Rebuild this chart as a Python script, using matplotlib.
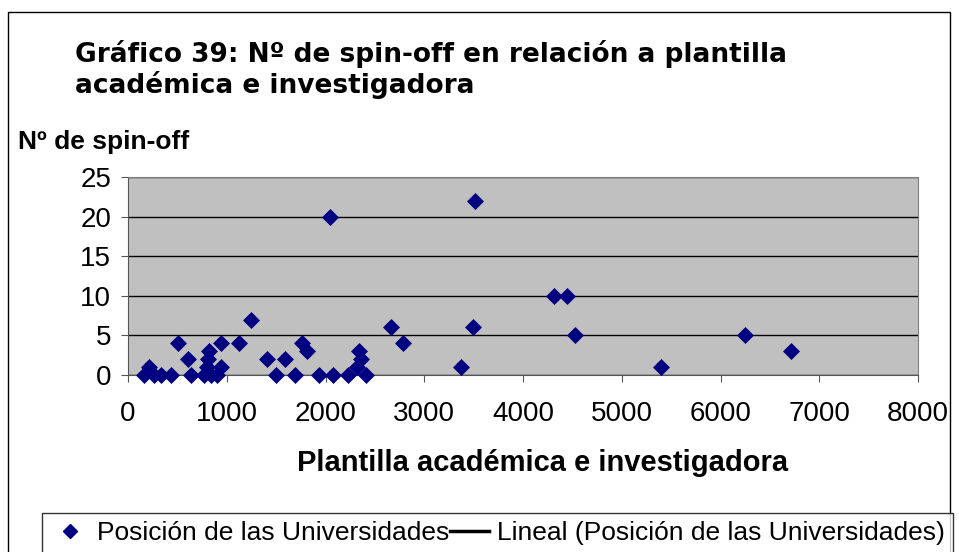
import matplotlib.pyplot as plt
from matplotlib.lines import Line2D
from matplotlib.patches import Rectangle

# plantilla académica e investigadora vs nº de spin-off por universidad
plantilla = [165, 266, 333, 435, 637, 771, 839, 906, 1497, 1692, 1935, 2076, 2231, 2410,
             215, 805, 940, 2315, 3370, 5395,
             603, 812, 1412, 1591, 2356,
             822, 1810, 2339, 6710,
             502, 940, 1126, 1766, 2780,
             4523, 6245,
             2659, 3491,
             1243,
             4318, 4445,
             2045,
             3512]
spinoff = [0, 0, 0, 0, 0, 0, 0, 0, 0, 0, 0, 0, 0, 0,
           1, 1, 1, 1, 1, 1,
           2, 2, 2, 2, 2,
           3, 3, 3, 3,
           4, 4, 4, 4, 4,
           5, 5,
           6, 6,
           7,
           10, 10,
           20,
           22]

x_ticks = [0, 1000, 2000, 3000, 4000, 5000, 6000, 7000, 8000]
y_ticks = [0, 5, 10, 15, 20, 25]

W, H = 959, 552
fig = plt.figure(figsize=(W / 100, H / 100), dpi=100)

# marco exterior del gráfico (cortado por abajo)
fig.patches.append(Rectangle((8 / W, -0.1), 942 / W, 1.1 - 12 / H,
                             transform=fig.transFigure, fill=False,
                             edgecolor="black", linewidth=1))

ax = fig.add_axes([128 / W, 1 - 375 / H, 790 / W, 198 / H])
ax.set_facecolor("#C0C0C0")
ax.scatter(plantilla, spinoff, marker="D", s=75, color="#000080", zorder=3,
           clip_on=False, linewidths=0)

ax.set_xlim(0, 8000)
ax.set_ylim(0, 25)
ax.set_xticks(x_ticks)
ax.set_yticks(y_ticks)
ax.tick_params(labelsize=20, length=5, color="#555555")
ax.tick_params(axis="x", pad=14)
ax.tick_params(axis="y", pad=7)
for lab in ax.get_xticklabels() + ax.get_yticklabels():
    lab.set_family("Liberation Sans")
ax.grid(axis="y", color="black", linewidth=1)
ax.set_axisbelow(True)
for s in ax.spines.values():
    s.set_color("#808080")
ax.spines["left"].set_color("#555555")
ax.spines["bottom"].set_color("#555555")

ax.set_xlabel("Plantilla académica e investigadora", fontsize=21,
              fontweight="bold", family="Liberation Sans")
ax.xaxis.set_label_coords((543 - 128) / 790, -(463 - 375) / 198)
ax.xaxis.label.set_va("center")

fig.text(75 / W, 1 - 40 / H,
         "Gráfico 39: Nº de spin-off en relación a plantilla\nacadémica e investigadora",
         fontsize=19, fontweight="bold", family="DejaVu Sans", va="top",
         linespacing=1.12)
fig.text(18 / W, 1 - 142 / H, "Nº de spin-off", fontsize=19, fontweight="bold",
         family="Liberation Sans", va="center")

handles = [Line2D([], [], marker="D", linestyle="none", color="#000080", markersize=7.5),
           Line2D([], [], color="black", linewidth=2.5)]
leg = fig.legend(handles, ["Posición de las Universidades",
                           "Lineal (Posición de las Universidades)"],
                 loc="upper left", bbox_to_anchor=(42 / W, 1 - 513 / H), ncol=2,
                 frameon=True, fancybox=False, edgecolor="black",
                 prop={"family": "Liberation Sans", "size": 19},
                 columnspacing=0.0, handlelength=1.5, handletextpad=0.3,
                 borderpad=0.3, borderaxespad=0)
leg.get_frame().set_linewidth(1)

fig.savefig("out.png", dpi=100)
